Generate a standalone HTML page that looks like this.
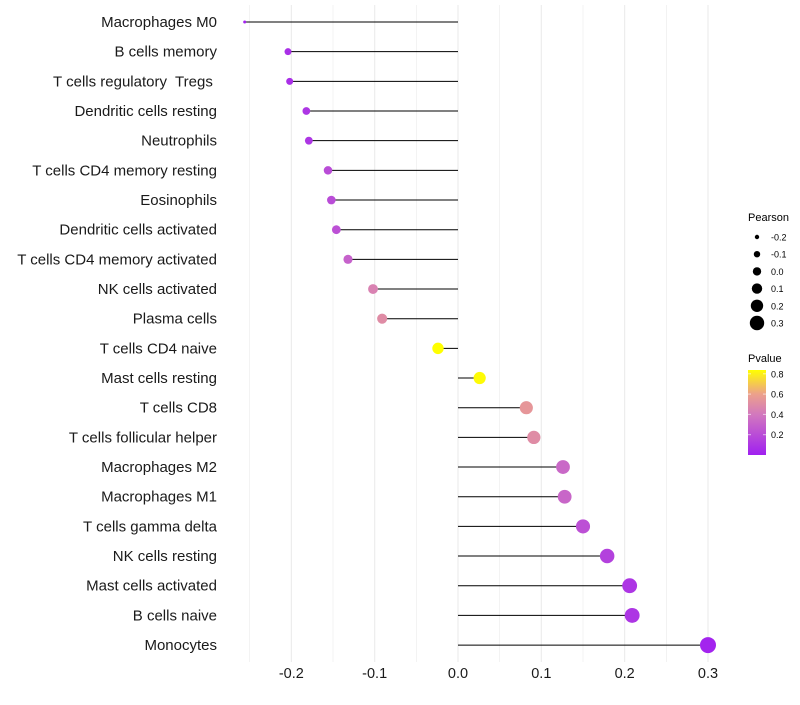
<!DOCTYPE html>
<html><head><meta charset="utf-8"><style>
body{margin:0;background:#fff;font-family:"Liberation Sans",sans-serif}
text{white-space:pre}
</style></head><body>
<svg id="chart" width="800" height="700" xmlns="http://www.w3.org/2000/svg" font-family="Liberation Sans, sans-serif">
<g id="grid"></g>
<g id="stems"></g>
<g id="dots"></g>
<g id="ylabels"></g>
<g id="xlabels"></g>
<g id="legend"></g>
</svg>
<script>
const categories=["Macrophages M0","B cells memory","T cells regulatory  Tregs ","Dendritic cells resting","Neutrophils","T cells CD4 memory resting","Eosinophils","Dendritic cells activated","T cells CD4 memory activated","NK cells activated","Plasma cells","T cells CD4 naive","Mast cells resting","T cells CD8","T cells follicular helper","Macrophages M2","Macrophages M1","T cells gamma delta","NK cells resting","Mast cells activated","B cells naive","Monocytes"];
const pearson=[-0.256,-0.204,-0.202,-0.182,-0.179,-0.156,-0.152,-0.146,-0.132,-0.102,-0.091,-0.024,0.026,0.082,0.091,0.126,0.128,0.150,0.179,0.206,0.209,0.300];
const pvalue=[0.02,0.07,0.07,0.1,0.1,0.2,0.2,0.22,0.3,0.45,0.5,0.84,0.83,0.55,0.5,0.33,0.32,0.22,0.15,0.1,0.1,0.02];
const xTicks=[-0.2,-0.1,0.0,0.1,0.2,0.3];
const xTickLabels=["-0.2","-0.1","0.0","0.1","0.2","0.3"];
const sizeLegend=[-0.2,-0.1,0.0,0.1,0.2,0.3];
const colorLegend=[0.2,0.4,0.6,0.8];

const NS="http://www.w3.org/2000/svg";
function x(v){return 458+v*833.3;}
function y(i){return 22+i*29.67;}
function r(v){return 1.6+(v+0.26)/0.56*5.6;}
function rp(v){const t=Math.max(0,(v+0.256)/0.556);return 1.5+6.5*Math.sqrt(t);}
function lerp(a,b,t){return Math.round(a+(b-a)*t);}
const stops=[[0,[160,32,240]],[0.4,[210,120,190]],[0.6,[236,160,140]],[0.84,[255,255,0]]];
function col(p){p=Math.max(0,Math.min(0.84,p));for(let k=0;k<stops.length-1;k++){const [a,ca]=stops[k],[b,cb]=stops[k+1];if(p<=b){const t=(p-a)/(b-a);return `rgb(${lerp(ca[0],cb[0],t)},${lerp(ca[1],cb[1],t)},${lerp(ca[2],cb[2],t)})`;}}return "rgb(255,255,0)";}
function mk(tag,attrs,parent,text){const e=document.createElementNS(NS,tag);for(const k in attrs)e.setAttribute(k,attrs[k]);if(text!==undefined)e.textContent=text;parent.appendChild(e);return e;}
const G=id=>document.getElementById(id);
for(let v=-0.25;v<=0.301;v+=0.05){const l=mk("line",{x1:x(v),x2:x(v),y1:5,y2:662,stroke:"#ebebeb","stroke-width":Math.abs(Math.round(v*20)%2)===0?1.1:0.6},G("grid"));

}
categories.forEach((c,i)=>{
 const s=mk("line",{x1:x(0),x2:x(pearson[i]),y1:y(i),y2:y(i),stroke:"#000","stroke-width":1},G("stems"));
 
 
 const d=mk("circle",{cx:x(pearson[i]),cy:y(i),r:rp(pearson[i]),fill:col(pvalue[i])},G("dots"));
 
 
 const t=mk("text",{x:217,y:y(i)+5,"text-anchor":"end","font-size":15,fill:"#1a1a1a"},G("ylabels"),c);
 
 
});
xTicks.forEach((v,i)=>{const t=mk("text",{x:x(v),y:678,"text-anchor":"middle","font-size":14.5,fill:"#1a1a1a"},G("xlabels"),xTickLabels[i]);

});
const L=G("legend");
const lt=mk("text",{x:748,y:221,"font-size":11,fill:"#000"},L,"Pearson");


sizeLegend.forEach((v,i)=>{const cy=237+i*17.2;
 const c=mk("circle",{cx:757,cy:cy,r:r(v),fill:"#000"},L);
 
 
 const t=mk("text",{x:771,y:cy+3.5,"font-size":9,fill:"#000"},L,v.toFixed(1));
 
 });
const ct=mk("text",{x:748,y:362,"font-size":11,fill:"#000"},L,"Pvalue");


const defs=mk("defs",{},L);const lg=mk("linearGradient",{id:"pg",x1:0,y1:1,x2:0,y2:0},defs);
stops.forEach(s=>mk("stop",{offset:s[0]/0.84,"stop-color":`rgb(${s[1].join(",")})`},lg));
const bar=mk("rect",{x:748,y:370,width:18,height:85,fill:"url(#pg)"},L);


function py(p){return 455-p*101.5;}
colorLegend.forEach(p=>{mk("line",{x1:748,x2:751,y1:py(p),y2:py(p),stroke:"#fff","stroke-opacity":0.6},L);mk("line",{x1:763,x2:766,y1:py(p),y2:py(p),stroke:"#fff","stroke-opacity":0.6},L);
 const t=mk("text",{x:771,y:py(p)+3.5,"font-size":9,fill:"#000"},L,p.toFixed(1));
 
 });
</script>
</body></html>
